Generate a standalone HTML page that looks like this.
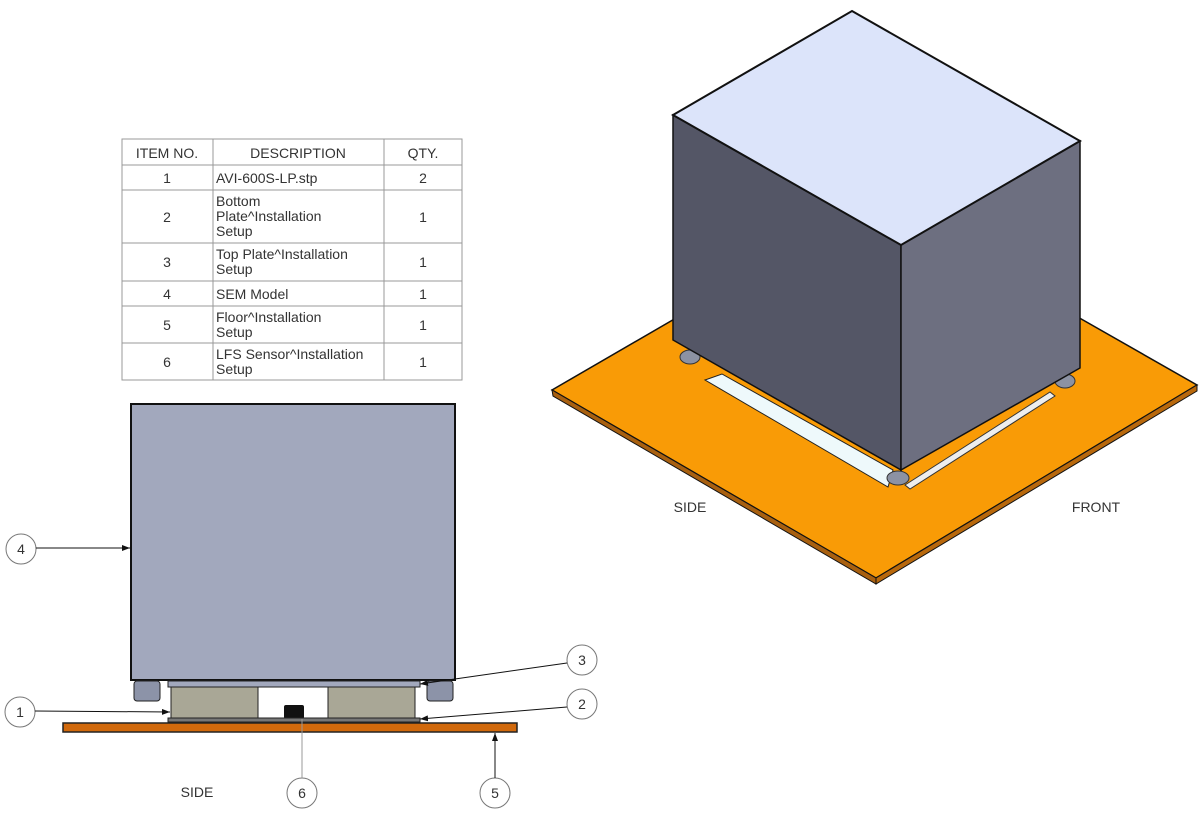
<!DOCTYPE html>
<html><head><meta charset="utf-8"><style>
html,body{margin:0;padding:0;background:#fff;}
svg{display:block;}
text{font-family:"Liberation Sans",sans-serif;fill:#333;}
</style></head><body>
<svg width="1200" height="820" viewBox="0 0 1200 820" xmlns="http://www.w3.org/2000/svg">
<defs>
<marker id="ar" markerWidth="8" markerHeight="6" refX="8" refY="3" orient="auto" markerUnits="userSpaceOnUse"><path d="M0,0 L8,3 L0,6 z" fill="#111"/></marker>
</defs>
<!-- Table -->
<g stroke="#999" stroke-width="1" fill="none">
<rect x="122" y="139" width="340" height="241"/>
<line x1="213" y1="139" x2="213" y2="380"/><line x1="384" y1="139" x2="384" y2="380"/>
<line x1="122" y1="165" x2="462" y2="165"/><line x1="122" y1="190" x2="462" y2="190"/>
<line x1="122" y1="243" x2="462" y2="243"/><line x1="122" y1="281" x2="462" y2="281"/>
<line x1="122" y1="306" x2="462" y2="306"/><line x1="122" y1="343" x2="462" y2="343"/>
</g>
<g font-size="14">
<text x="167" y="158" text-anchor="middle">ITEM NO.</text>
<text x="298" y="158" text-anchor="middle">DESCRIPTION</text>
<text x="423" y="158" text-anchor="middle">QTY.</text>
<text x="167" y="183" text-anchor="middle">1</text><text x="216" y="183">AVI-600S-LP.stp</text><text x="423" y="183" text-anchor="middle">2</text>
<text x="167" y="222" text-anchor="middle">2</text><text x="216" y="206">Bottom</text><text x="216" y="221">Plate^Installation</text><text x="216" y="236">Setup</text><text x="423" y="222" text-anchor="middle">1</text>
<text x="167" y="267" text-anchor="middle">3</text><text x="216" y="259">Top Plate^Installation</text><text x="216" y="274">Setup</text><text x="423" y="267" text-anchor="middle">1</text>
<text x="167" y="299" text-anchor="middle">4</text><text x="216" y="299">SEM Model</text><text x="423" y="299" text-anchor="middle">1</text>
<text x="167" y="330" text-anchor="middle">5</text><text x="216" y="322">Floor^Installation</text><text x="216" y="337">Setup</text><text x="423" y="330" text-anchor="middle">1</text>
<text x="167" y="367" text-anchor="middle">6</text><text x="216" y="359">LFS Sensor^Installation</text><text x="216" y="374">Setup</text><text x="423" y="367" text-anchor="middle">1</text>
</g>
<!-- Side view -->
<rect x="131" y="404" width="324" height="276" fill="#a2a8bd" stroke="#111" stroke-width="2"/>
<rect x="134" y="681" width="26" height="20" rx="3" fill="#8c93a8" stroke="#222"/>
<rect x="427" y="681" width="26" height="20" rx="3" fill="#8c93a8" stroke="#222"/>
<rect x="168" y="681" width="252" height="6" fill="#a2a8bd" stroke="#222"/>
<rect x="171" y="687" width="87" height="31" fill="#a9a796" stroke="#222"/>
<rect x="328" y="687" width="87" height="31" fill="#a9a796" stroke="#222"/>
<rect x="284" y="705" width="20" height="14" rx="2" fill="#111"/>
<rect x="168" y="718" width="252" height="4" fill="#777" stroke="#222"/>
<rect x="63" y="723" width="454" height="9" fill="#d1690c" stroke="#222" stroke-width="1.5"/>
<!-- balloons -->
<g fill="#fff" stroke="#777" stroke-width="1">
<circle cx="21" cy="549" r="15"/><circle cx="582" cy="660" r="15"/><circle cx="20" cy="712" r="15"/>
<circle cx="582" cy="704" r="15"/><circle cx="302" cy="793" r="15"/><circle cx="495" cy="793" r="15"/>
</g>
<g font-size="14" text-anchor="middle">
<text x="21" y="554">4</text><text x="582" y="665">3</text><text x="20" y="717">1</text>
<text x="582" y="709">2</text><text x="302" y="798">6</text><text x="495" y="798">5</text>
</g>
<g stroke="#111" stroke-width="1">
<line x1="36" y1="548" x2="130" y2="548" marker-end="url(#ar)"/>
<line x1="567" y1="663" x2="420" y2="684" marker-end="url(#ar)"/>
<line x1="35" y1="711" x2="170" y2="712" marker-end="url(#ar)"/>
<line x1="567" y1="707" x2="420" y2="719" marker-end="url(#ar)"/>
<line x1="495" y1="778" x2="495" y2="733" marker-end="url(#ar)"/>
<line x1="302" y1="778" x2="302" y2="719" stroke="#999"/>
</g>
<text x="197" y="797" font-size="14" text-anchor="middle">SIDE</text>
<!-- Iso view -->
<polygon points="552,390 876,202 1197,385 876,578" fill="#f99b06" stroke="#111" stroke-width="1.5"/>
<polygon points="552,390 876,578 876,584 553,396" fill="#a86010" stroke="#111"/>
<polygon points="876,578 1197,385 1197,391 876,584" fill="#b8680c" stroke="#111"/>
<polygon points="705,380 722,374 893,470 888,487" fill="#eef9fb" stroke="#222"/>
<polygon points="905,485 1050,392 1055,396 910,489" fill="#eee" stroke="#333"/>
<ellipse cx="690" cy="357" rx="10" ry="7" fill="#8c92a3" stroke="#333"/>
<ellipse cx="898" cy="478" rx="11" ry="7" fill="#8c92a3" stroke="#333"/>
<ellipse cx="1065" cy="381" rx="10" ry="7" fill="#8c92a3" stroke="#333"/>
<polygon points="673,115 901,245 901,470 673,340" fill="#545666" stroke="#111" stroke-width="1.5"/>
<polygon points="901,245 1080,141 1080,368 901,470" fill="#6d6f80" stroke="#111" stroke-width="1.5"/>
<polygon points="852,11 1080,141 901,245 673,115" fill="#dce4fa" stroke="#111" stroke-width="2"/>
<text x="690" y="512" font-size="14" text-anchor="middle">SIDE</text>
<text x="1096" y="512" font-size="14" text-anchor="middle">FRONT</text>
</svg>
</body></html>
